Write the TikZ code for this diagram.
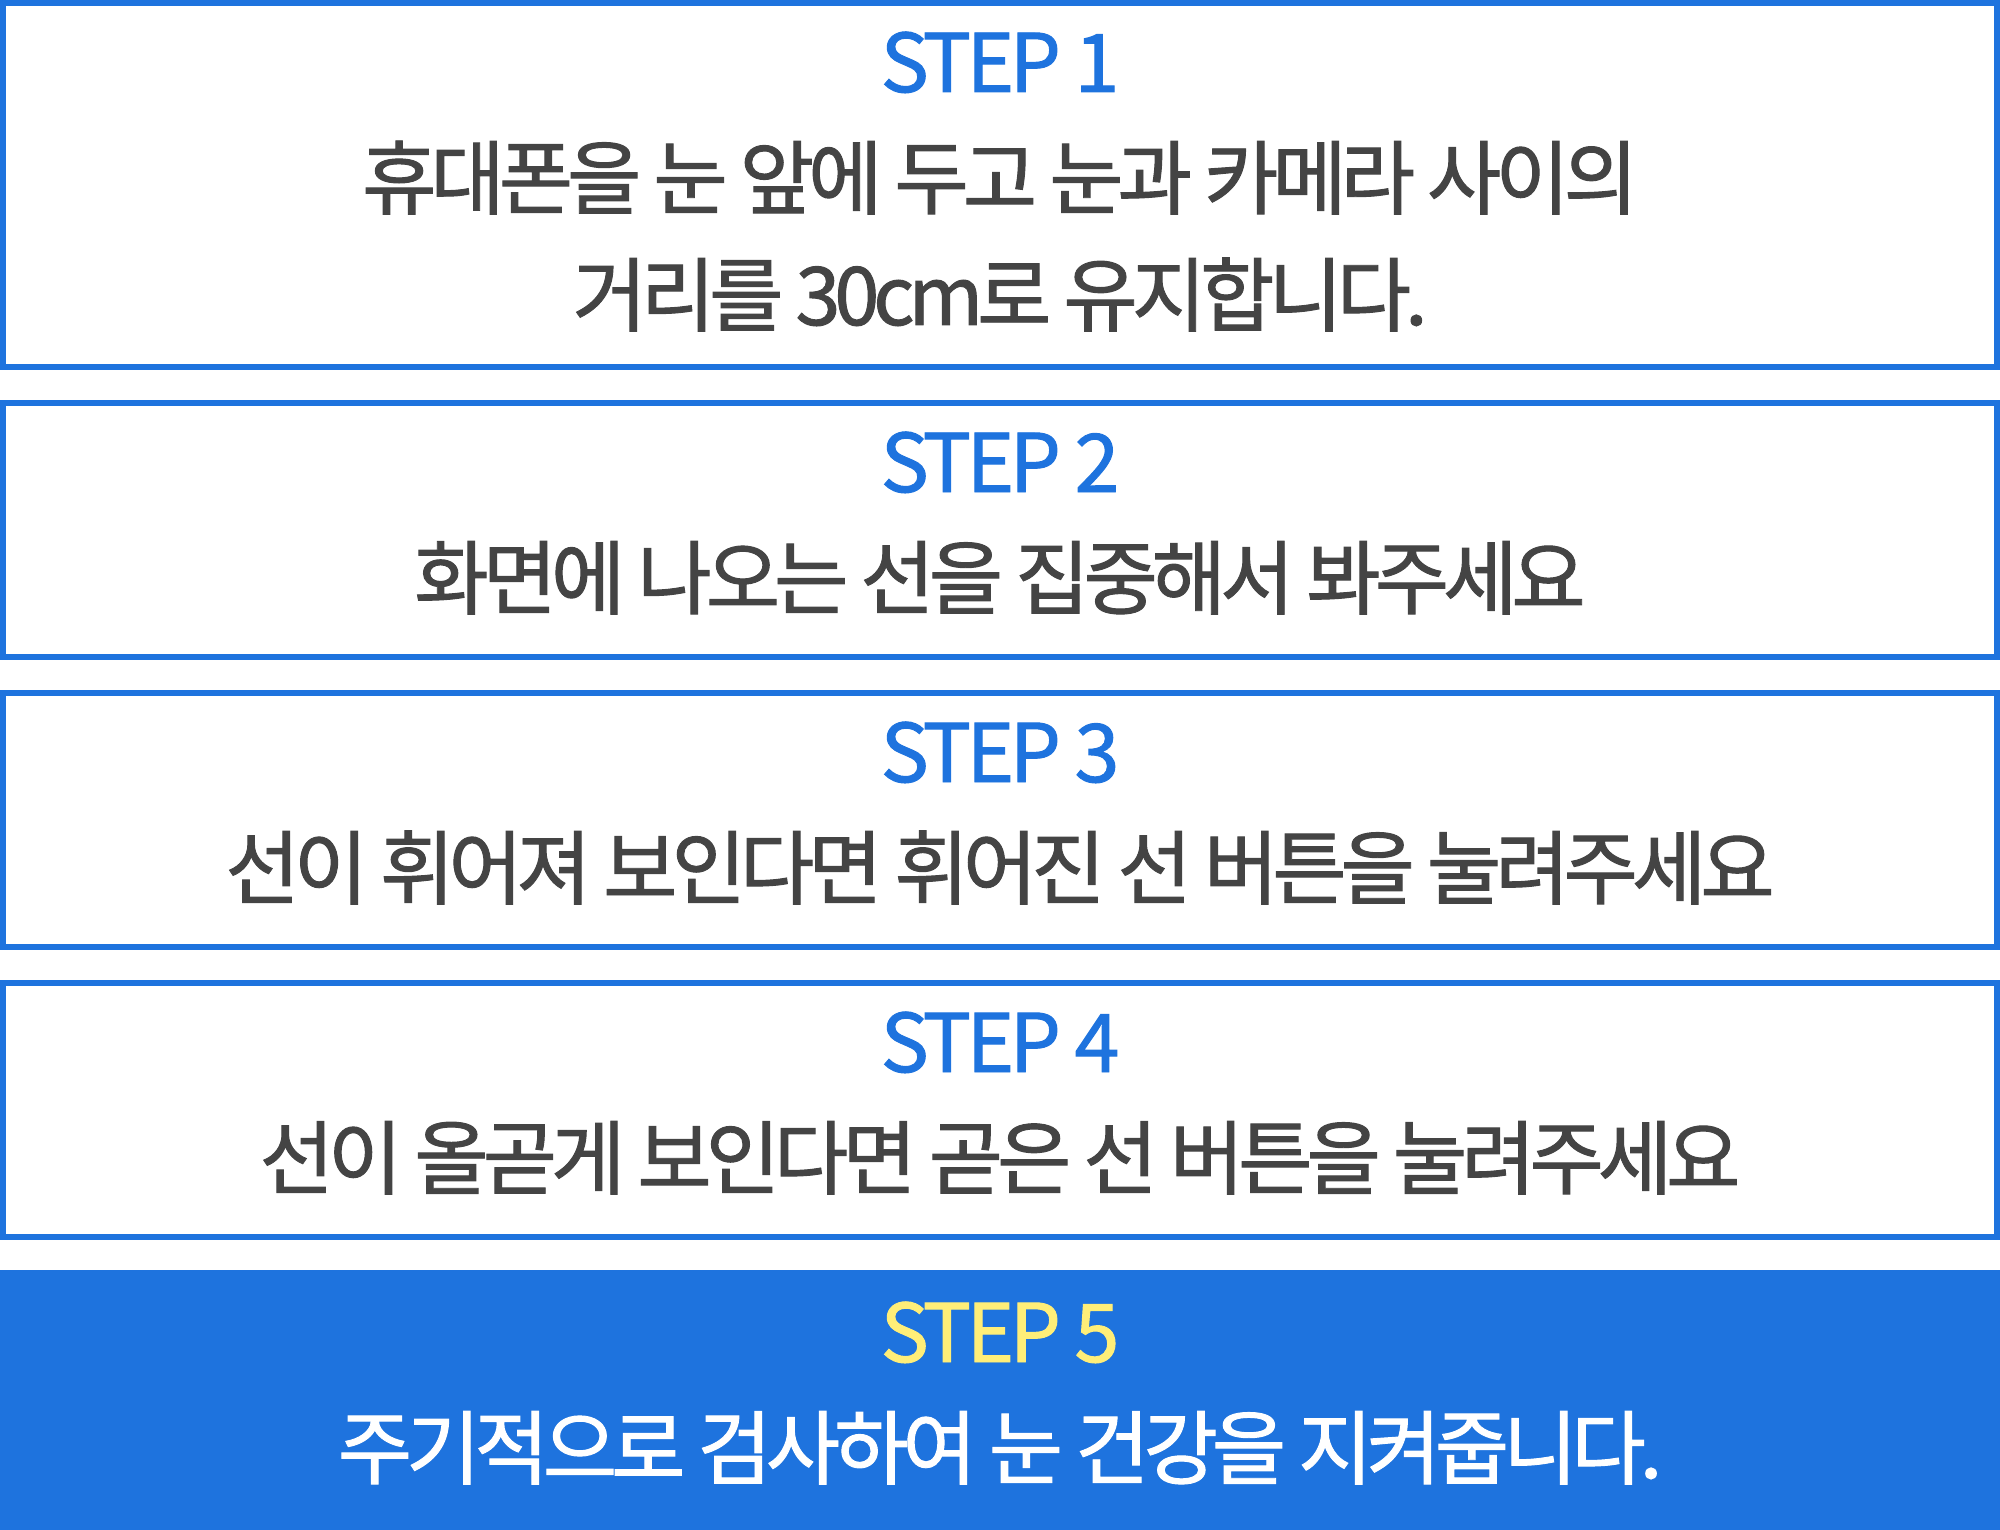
\documentclass[tikz,border=0pt]{standalone}
\usepackage{fontspec}
\setmainfont{Noto Sans CJK KR}[LetterSpace=-7.5, FakeBold=1.2]
\newfontfamily\stepfont{Noto Sans CJK KR}[LetterSpace=-5.5, FakeBold=1.2]
\usetikzlibrary{positioning}
\definecolor{primary}{RGB}{30, 115, 222}
\definecolor{secondary}{RGB}{68, 68, 68}
\definecolor{highlight}{RGB}{255, 238, 120}
\tikzstyle{stepbox} = [rectangle, draw=primary, line width=0.06cm, minimum width=19.94cm, inner sep=0pt, outer sep=0pt]
\tikzstyle{lastbox} = [rectangle, fill=primary, minimum width=20cm, minimum height=2.6cm, inner sep=0pt, outer sep=0pt]
\tikzstyle{steplabel} = [anchor=base, text=primary, inner sep=0pt, font=\stepfont\fontsize{23}{28}\selectfont]
\tikzstyle{steptext} = [anchor=base, text=secondary, inner sep=0pt, font=\fontsize{23}{28}\selectfont]

\begin{document}
\begin{tikzpicture}
    \useasboundingbox (0, 0) rectangle (20, -15.3);

    % Step 1
    \node[stepbox, minimum height=3.64cm] (box1) at (10, -1.85) {};
    \node[steplabel] (label1) at (10, -0.92) {STEP 1};
    \node[steptext] (text1a) at (10, -2.08) {휴대폰을 눈 앞에 두고 눈과 카메라 사이의};
    \node[steptext] (text1b) at (10, -3.25) {거리를 30cm로 유지합니다.};

    % Step 2
    \node[stepbox, minimum height=2.54cm] (box2) at (10, -5.30) {};
    \node[steplabel] (label2) at (10, -4.92) {STEP 2};
    \node[steptext] (text2) at (10, -6.08) {화면에 나오는 선을 집중해서 봐주세요};

    % Step 3
    \node[stepbox, minimum height=2.54cm] (box3) at (10, -8.20) {};
    \node[steplabel] (label3) at (10, -7.82) {STEP 3};
    \node[steptext] (text3) at (10, -8.98) {선이 휘어져 보인다면 휘어진 선 버튼을 눌려주세요};

    % Step 4
    \node[stepbox, minimum height=2.54cm] (box4) at (10, -11.10) {};
    \node[steplabel] (label4) at (10, -10.72) {STEP 4};
    \node[steptext] (text4) at (10, -11.88) {선이 올곧게 보인다면 곧은 선 버튼을 눌려주세요};

    % Step 5
    \node[lastbox] (box5) at (10, -14.00) {};
    \node[steplabel, text=highlight] (label5) at (10, -13.62) {STEP 5};
    \node[steptext, text=white] (text5) at (10, -14.78) {주기적으로 검사하여 눈 건강을 지켜줍니다.};
\end{tikzpicture}
\end{document}
